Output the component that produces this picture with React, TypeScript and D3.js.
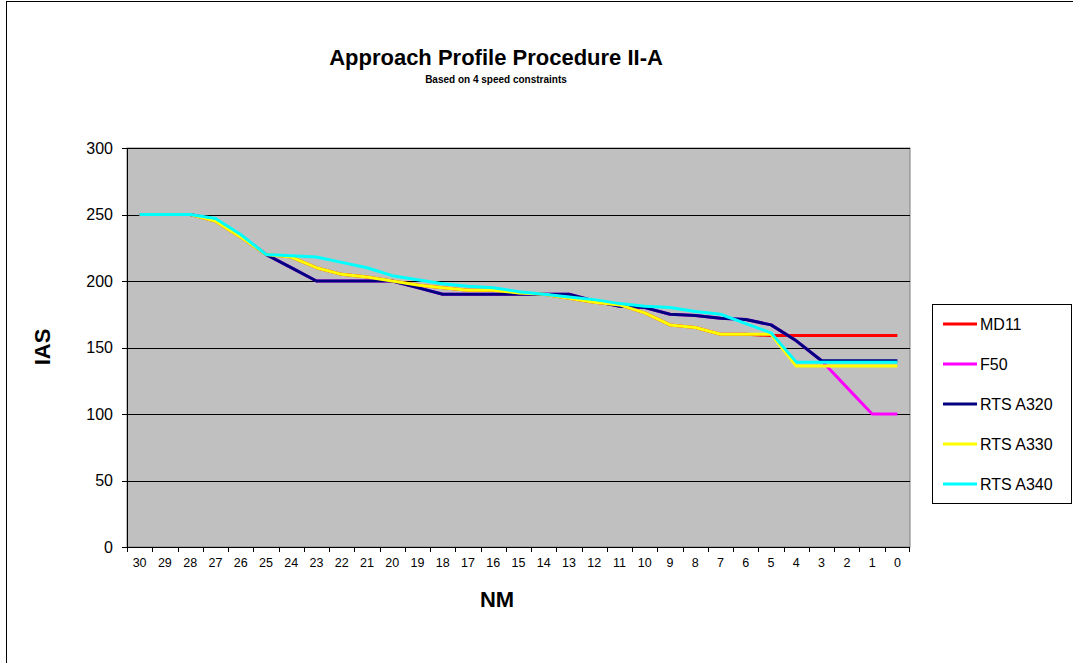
import React from "react";
import * as d3 from "d3";

const categories = ["30","29","28","27","26","25","24","23","22","21","20","19","18","17","16","15","14","13","12","11","10","9","8","7","6","5","4","3","2","1","0"];
const md11 =   [250,250,250,245,233,220,218,210,205,203,200,197,195,193,193,191,190,187,184,182,176,167,165,160,160,159,159,159,159,159,159];
const f50 =    [250,250,250,246,234,220,210,200,200,200,200,195,190,190,190,190,190,190,185,181,180,175,174,172,171,167,155,140,120,100,100];
const a320 =   [250,250,250,246,234,220,210,200,200,200,200,195,190,190,190,190,190,190,185,181,180,175,174,172,171,167,155,140,140,140,140];
const a330 =   [250,250,250,245,233,220,218,210,205,203,200,197,195,193,193,191,190,187,184,182,176,167,165,160,160,160,136,136,136,136,136];
const a340 =   [250,250,250,247,235,220,219,218,214,210,204,201,198,196,195,192,190,188,186,183,181,180,177,175,168,161,139,139,139,139,139];
const yTicks = [0,50,100,150,200,250,300];

const seriesNames = ["MD11","F50","RTS A320","RTS A330","RTS A340"];
const seriesValues = [md11, f50, a320, a330, a340];
const seriesColors = ["#FF0000","#FF00FF","#000080","#FFFF00","#00FFFF"];

const FONT = "'Liberation Sans', Arial, Helvetica, sans-serif";

export default function App() {
  const W = 1073, H = 663;
  const left = 127, right = 910, top = 148, bottom = 547;
  const x = d3.scaleBand().domain(categories).range([left, right]).padding(0);
  const y = d3.scaleLinear().domain([0, 300]).range([bottom, top]);
  const cx = (c: string) => (x(c) as number) + x.bandwidth() / 2;
  const line = d3.line<number>().x((_, i) => cx(categories[i])).y((v) => y(v));

  const legendX = 932, legendY = 304, legendW = 139, legendH = 199;

  return (
    <svg width={W} height={H} style={{ position: "absolute", left: 0, top: 0, background: "#fff" }} fontFamily={FONT}>
      <rect x={6.5} y={1.5} width={W} height={H} fill="#fff" stroke="#000" strokeWidth={1} />
      <text x={496} y={65} textAnchor="middle" fontSize={22} fontWeight="bold">Approach Profile Procedure II-A</text>
      <text x={496} y={83} textAnchor="middle" fontSize={10} fontWeight="bold">Based on 4 speed constraints</text>

      <rect x={left} y={top} width={right - left} height={bottom - top} fill="#C0C0C0" stroke="#808080" strokeWidth={1} />
      {yTicks.filter((t) => t > 0).map((t) => (
        <line key={"g" + t} x1={left} x2={right} y1={Math.round(y(t)) + 0.5} y2={Math.round(y(t)) + 0.5} stroke="#000" strokeWidth={1} />
      ))}
      <line x1={left + 0.5} x2={left + 0.5} y1={top} y2={bottom + 5} stroke="#000" strokeWidth={1} />
      <line x1={left - 5} x2={right} y1={bottom + 0.5} y2={bottom + 0.5} stroke="#000" strokeWidth={1} />
      {yTicks.map((t) => (
        <g key={"yt" + t}>
          <line x1={left - 5} x2={left} y1={Math.round(y(t)) + 0.5} y2={Math.round(y(t)) + 0.5} stroke="#000" />
          <text x={113} y={y(t)} dy="0.36em" textAnchor="end" fontSize={16}>{t}</text>
        </g>
      ))}
      {categories.map((c, i) => (
        <g key={"xt" + c}>
          <line x1={Math.round((x(c) as number)) + 0.5} x2={Math.round((x(c) as number)) + 0.5} y1={bottom} y2={bottom + 5} stroke="#000" />
          {i === categories.length - 1 && (
            <line x1={right - 0.5} x2={right - 0.5} y1={bottom} y2={bottom + 5} stroke="#000" />
          )}
          <text x={cx(c)} y={567} textAnchor="middle" fontSize={12.5}>{c}</text>
        </g>
      ))}

      {seriesValues.map((vals, i) => (
        <path key={seriesNames[i]} d={line(vals) || ""} fill="none" stroke={seriesColors[i]} strokeWidth={3} strokeLinejoin="round" />
      ))}

      <text x={42} y={347} transform="rotate(-90 42 347)" textAnchor="middle" dy="0.36em" fontSize={22} fontWeight="bold">IAS</text>
      <text x={497} y={607} textAnchor="middle" fontSize={22} fontWeight="bold">NM</text>

      <rect x={legendX + 0.5} y={legendY + 0.5} width={legendW} height={legendH} fill="#fff" stroke="#000" strokeWidth={1} />
      {seriesNames.map((n, i) => {
        const ly = 324 + i * 40;
        return (
          <g key={"lg" + n}>
            <line x1={943} x2={977} y1={ly} y2={ly} stroke={seriesColors[i]} strokeWidth={3} />
            <text x={980} y={ly} dy="0.36em" fontSize={16}>{n}</text>
          </g>
        );
      })}
    </svg>
  );
}
